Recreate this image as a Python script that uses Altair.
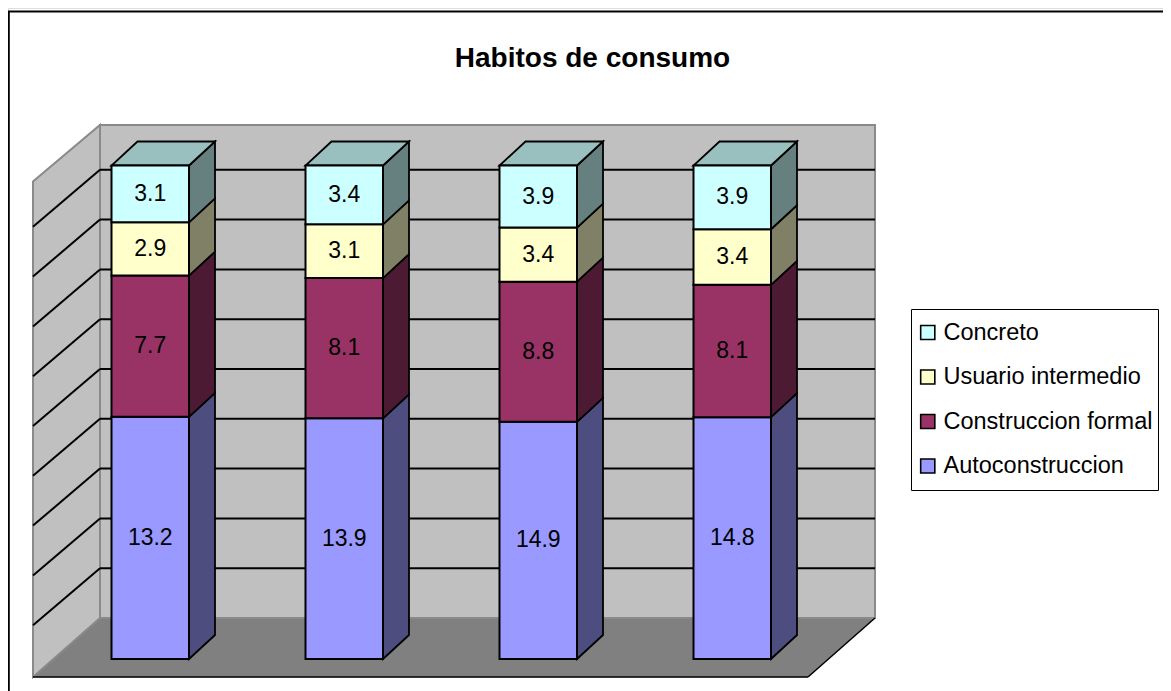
import altair as alt
import pandas as pd

# ---- data ----
TITLE = "Habitos de consumo"
SLOTS = [0, 1, 2, 3]
SERIES = ["Autoconstruccion", "Construccion formal", "Usuario intermedio", "Concreto"]
AUTOCONSTRUCCION = [13.2, 13.9, 14.9, 14.8]
CONSTRUCCION = [7.7, 8.1, 8.8, 8.1]
USUARIO = [2.9, 3.1, 3.4, 3.4]
CONCRETO = [3.1, 3.4, 3.9, 3.9]
GRID_TICKS = [10, 20, 30, 40, 50, 60, 70, 80, 90]
VALUES = [AUTOCONSTRUCCION, CONSTRUCCION, USUARIO, CONCRETO]

FRONT = ["#9999FF", "#993366", "#FFFFCC", "#CCFFFF"]
SIDE = ["#4D4D80", "#4D1A33", "#808066", "#668080"]
TOP = "#9ABFBF"
WALL = "#C0C0C0"
FLOOR = "#808080"
WALLEDGE = "#8A8A8A"
SANS = "Liberation Sans"

# ---- projection of the 3-D box, in picture units ----
W, H = 1155, 683
BAR_X0, BAR_W, BAR_STEP = 111.5, 77.5, 194.0
BAR_BOTTOM, BAR_SPAN = 659.0, 493.5
DEPTH_X, DEPTH_Y = 26.0, 24.0
BACK_L, BACK_R, BACK_T, BACK_B = 100.0, 875.0, 125.0, 618.0
SIDE_L, SIDE_T, SIDE_B = 33.0, 181.5, 677.0
FLOOR_FR = 808.0
GRID_PX = 4.98
GRID_DROP = 57.0

xs = alt.Scale(domain=[8, 8 + W], nice=False, zero=False)
ys = alt.Scale(domain=[8 + H, 8], nice=False, zero=False)
X = alt.X("x:Q", scale=xs, axis=None)
Y = alt.Y("y:Q", scale=ys, axis=None)
Y2 = alt.Y2("y2:Q")


def poly_rows(pid, fill, pts):
    return [{"pid": pid, "fill": fill, "x": p[0], "y": p[1], "y2": p[2]} for p in pts]


# front faces, side faces, top faces and labels come from the values
front, faces, labels = [], [], []
for i, slot in enumerate(SLOTS):
    total = sum(v[i] for v in VALUES)
    x0 = BAR_X0 + slot * BAR_STEP
    x1 = x0 + BAR_W
    cum = 0.0
    for k, name in enumerate(SERIES):
        val = VALUES[k][i]
        yb = BAR_BOTTOM - BAR_SPAN * cum / total
        cum += val
        yt = BAR_BOTTOM - BAR_SPAN * cum / total
        front.append({"serie": name, "x": x0, "x2": x1, "y": yb, "y2": yt})
        labels.append({"x": (x0 + x1) / 2, "y": (yb + yt) / 2, "t": f"{val:.1f}"})
        faces += poly_rows(
            f"s{i}{k}",
            SIDE[k],
            [(x1, yb, yt), (x1 + DEPTH_X, yb - DEPTH_Y, yt - DEPTH_Y)],
        )
    yt = BAR_BOTTOM - BAR_SPAN
    faces += poly_rows(
        f"t{i}",
        TOP,
        [
            (x0, yt, yt),
            (x0 + DEPTH_X, yt, yt - DEPTH_Y),
            (x1, yt, yt - DEPTH_Y),
            (x1 + DEPTH_X, yt - DEPTH_Y, yt - DEPTH_Y),
        ],
    )

wall_rows = poly_rows(
    "back", WALL, [(BACK_L, BACK_B, BACK_T), (BACK_R, BACK_B, BACK_T)]
) + poly_rows("left", WALL, [(SIDE_L, SIDE_B, SIDE_T), (BACK_L, BACK_B, BACK_T)])

floor_rows = poly_rows(
    "floor",
    FLOOR,
    [
        (SIDE_L, SIDE_B, SIDE_B),
        (BACK_L, SIDE_B, BACK_B),
        (FLOOR_FR, SIDE_B, BACK_B),
        (BACK_R, BACK_B, BACK_B),
    ],
)

grid_back = [
    {"x": BACK_L, "x2": BACK_R, "y": BACK_B - t * GRID_PX, "y2": BACK_B - t * GRID_PX}
    for t in GRID_TICKS
]
grid_side = [
    {
        "x": SIDE_L,
        "x2": BACK_L,
        "y": BACK_B - t * GRID_PX + GRID_DROP,
        "y2": BACK_B - t * GRID_PX,
    }
    for t in GRID_TICKS
]
frame = [
    {"x": 8.0, "x2": 8.0 + W, "y": 11.5, "y2": 11.5},
    {"x": 8.7, "x2": 8.7, "y": 11.5, "y2": 8.0 + H},
]
floor_edge = [
    {"x": SIDE_L, "x2": FLOOR_FR, "y": SIDE_B, "y2": SIDE_B},
    {"x": FLOOR_FR, "x2": BACK_R, "y": SIDE_B, "y2": BACK_B},
]


def rules(rows, color, width):
    return (
        alt.Chart(pd.DataFrame(rows))
        .mark_rule(color=color, strokeWidth=width)
        .encode(x=X, x2="x2:Q", y=Y, y2=Y2)
    )


def polys(rows, stroke, width):
    return (
        alt.Chart(pd.DataFrame(rows))
        .mark_area(stroke=stroke, strokeWidth=width, opacity=1, interpolate="linear")
        .encode(
            x=X,
            y=Y,
            y2=Y2,
            detail="pid:N",
            color=alt.Color("fill:N", scale=None, legend=None),
        )
    )


bars = (
    alt.Chart(pd.DataFrame(front))
    .mark_rect(stroke="black", strokeWidth=2, opacity=1)
    .encode(
        x=X,
        x2="x2:Q",
        y=Y,
        y2=Y2,
        color=alt.Color(
            "serie:N",
            scale=alt.Scale(domain=SERIES[::-1], range=FRONT[::-1]),
            legend=alt.Legend(
                title=None,
                orient="none",
                legendX=903,
                legendY=301,
                fillColor="white",
                strokeColor="black",
                padding=5,
                symbolType="square",
                symbolSize=200,
                symbolStrokeColor="black",
                symbolStrokeWidth=1.6,
                labelFont=SANS,
                labelFontSize=23.5,
                labelColor="black",
                labelLimit=300,
                labelOffset=4,
                clipHeight=37,
                rowPadding=7.5,
            ),
        ),
    )
)

text = (
    alt.Chart(pd.DataFrame(labels))
    .mark_text(font=SANS, fontSize=23, color="black", baseline="middle", align="center")
    .encode(x=X, y=Y, text="t:N")
)

chart = (
    alt.layer(
        rules(frame, "black", 2.2),
        polys(floor_rows, FLOOR, 0.5),
        polys(wall_rows, WALLEDGE, 2),
        rules(grid_back, "black", 2),
        rules(grid_side, "black", 2),
        rules(floor_edge, "black", 1.5),
        polys(faces, "black", 1.8),
        bars,
        text,
    )
    .resolve_scale(color="independent")
    .properties(
        width=W,
        height=H,
        padding=0,
        autosize=alt.AutoSizeParams(type="none"),
        title=alt.TitleParams(
            TITLE,
            font=SANS,
            fontSize=28,
            fontWeight="bold",
            color="black",
            anchor="middle",
            dx=7,
            dy=69,
        ),
    )
    .configure_view(stroke=None)
    .configure(background="white")
)

chart.save("out.html", embed_options={"renderer": "svg", "actions": False})
